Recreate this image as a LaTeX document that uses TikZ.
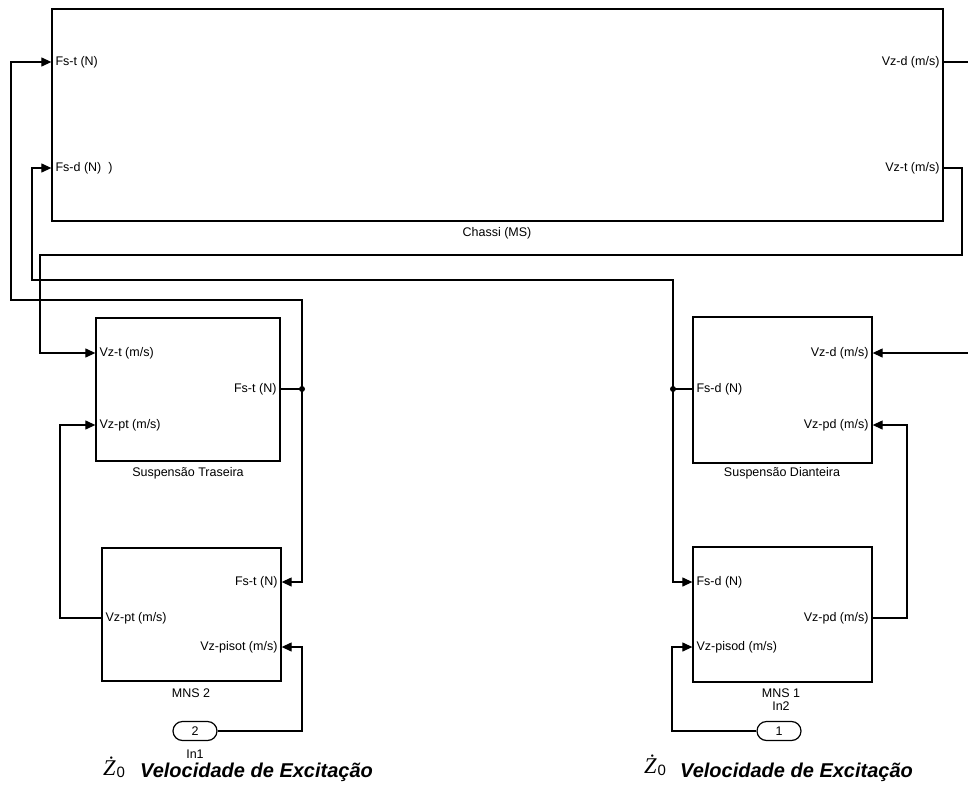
\documentclass[tikz,border=0pt]{standalone}
\usepackage{fontspec}
\setmainfont{Liberation Sans}
\newfontfamily\zfont{Liberation Serif}
\usetikzlibrary{arrows.meta,shapes.misc}
\newcommand{\zdotlab}{{\zfont\itshape\fontsize{22.5}{24}\selectfont Ż}\hspace{1pt}\raisebox{-2pt}{\fontsize{15}{16}\selectfont 0}}
\begin{document}
\begin{tikzpicture}[x=1pt,y=-1pt,
  font=\fontsize{12.5}{14}\selectfont,
  blk/.style={draw=black,line width=1.3pt,inner sep=0pt,rectangle},
  wire/.style={draw=black,line width=1.2pt},
  arr/.style={wire,-{Triangle[length=10pt,width=9pt]}},
  plabL/.style={anchor=west,inner sep=0pt,xshift=4pt},
  plabR/.style={anchor=east,inner sep=0pt,xshift=-4pt},
  blab/.style={inner sep=0pt},
  jdot/.style={circle,fill=black,inner sep=0pt,minimum size=6pt},
  inport/.style={draw=black,rounded rectangle,line width=1.2pt,minimum width=44pt,minimum height=19pt,inner sep=0pt},
  big/.style={font=\fontsize{20}{22}\selectfont\bfseries\itshape,anchor=base west,inner sep=0pt},
  zlab/.style={anchor=base west,inner sep=0pt}
]
\useasboundingbox (0,0) rectangle (968,789);

% blocks
\node[blk,minimum width=891pt,minimum height=212pt] (ch) at (497.5,115) {};
\node[blk,minimum width=184pt,minimum height=143pt] (st) at (188,389.5) {};
\node[blk,minimum width=179pt,minimum height=146pt] (sd) at (782.5,390) {};
\node[blk,minimum width=179pt,minimum height=133pt] (m2) at (191.5,614.5) {};
\node[blk,minimum width=179pt,minimum height=135pt] (m1) at (782.5,614.5) {};

% block labels
\node[blab] (chl) at (497,233) {Chassi (MS)};
\node[blab] (stl) at (188,473) {Suspensão Traseira};
\node[blab] (sdl) at (782,473) {Suspensão Dianteira};
\node[blab] (m2l) at (191,693) {MNS 2};
\node[blab] (m1l) at (781,693) {MNS 1};
\node[blab] (in2l) at (781,706) {In2};
\node[blab] (in1l) at (195,754) {In1};

% ports
\coordinate (ch-fst) at (ch.west |- 0,62);
\coordinate (ch-fsd) at (ch.west |- 0,168);
\coordinate (ch-vzd) at (ch.east |- 0,62);
\coordinate (ch-vzt) at (ch.east |- 0,168);
\coordinate (st-vzt) at (st.west |- 0,353);
\coordinate (st-vzpt) at (st.west |- 0,425);
\coordinate (st-fst) at (st.east |- 0,389);
\coordinate (sd-vzd) at (sd.east |- 0,353);
\coordinate (sd-vzpd) at (sd.east |- 0,425);
\coordinate (sd-fsd) at (sd.west |- 0,389);
\coordinate (m2-fst) at (m2.east |- 0,582);
\coordinate (m2-vzpt) at (m2.west |- 0,618);
\coordinate (m2-vzp) at (m2.east |- 0,647);
\coordinate (m1-fsd) at (m1.west |- 0,582);
\coordinate (m1-vzpd) at (m1.east |- 0,618);
\coordinate (m1-vzp) at (m1.west |- 0,647);

% port labels
\node[plabL] (l1) at (ch-fst) {Fs-t (N)};
\node[plabL] (l2) at (ch-fsd) {Fs-d (N)\hspace{7pt})};
\node[plabR] (l3) at (ch-vzd) {Vz-d (m/s)};
\node[plabR] (l4) at (ch-vzt) {Vz-t (m/s)};
\node[plabL] (l5) at (st-vzt) {Vz-t (m/s)};
\node[plabL] (l6) at (st-vzpt) {Vz-pt (m/s)};
\node[plabR] (l7) at (st-fst) {Fs-t (N)};
\node[plabR] (l8) at (sd-vzd) {Vz-d (m/s)};
\node[plabR] (l9) at (sd-vzpd) {Vz-pd (m/s)};
\node[plabL] (l10) at (sd-fsd) {Fs-d (N)};
\node[plabR] (l11) at (m2-fst) {Fs-t (N)};
\node[plabL] (l12) at (m2-vzpt) {Vz-pt (m/s)};
\node[plabR] (l13) at (m2-vzp) {Vz-pisot (m/s)};
\node[plabL] (l14) at (m1-fsd) {Fs-d (N)};
\node[plabR] (l15) at (m1-vzpd) {Vz-pd (m/s)};
\node[plabL] (l16) at (m1-vzp) {Vz-pisod (m/s)};

% inports
\node[inport] (p2) at (195,731) {2};
\node[inport] (p1) at (779,731) {1};

% junctions
\node[jdot] (jt) at (302,389) {};
\node[jdot] (jd) at (673,389) {};

% bend points
\coordinate (a1) at (11,300);
\coordinate (b1) at (32,280);
\coordinate (c1) at (962,255);
\coordinate (c2) at (40,255);
\coordinate (d1) at (60,425);
\coordinate (f1) at (302,647);
\coordinate (g1) at (907,425);
\coordinate (h1) at (672,647);
\coordinate (e1) at (968,62);
\coordinate (e2) at (968,353);

% wires
\draw[wire] (st-fst) -- (jt.center);
\draw[arr] (jt.center) |- (a1) |- (ch-fst);
\draw[arr] (jt.center) |- (m2-fst);
\draw[wire] (sd-fsd) -- (jd.center);
\draw[arr] (jd.center) |- (b1) |- (ch-fsd);
\draw[arr] (jd.center) |- (m1-fsd);
\draw[arr] (ch-vzt) -| (c1) -- (c2) |- (st-vzt);
\draw[wire] (ch-vzd) -- (e1);
\draw[arr] (e2) -- (sd-vzd);
\draw[arr] (m2-vzpt) -| (d1) -- (st-vzpt);
\draw[arr] (p2.east) -| (f1) -- (m2-vzp);
\draw[arr] (m1-vzpd) -| (g1) -- (sd-vzpd);
\draw[arr] (p1.west) -| (h1) -- (m1-vzp);

% bottom labels
\node[zlab] (z2) at (103,775) {\zdotlab};
\node[big] (v2) at (140,777) {Velocidade de Excitação};
\node[zlab] (z1) at (644,773) {\zdotlab};
\node[big] (v1) at (680,777) {Velocidade de Excitação};
\end{tikzpicture}
\end{document}
